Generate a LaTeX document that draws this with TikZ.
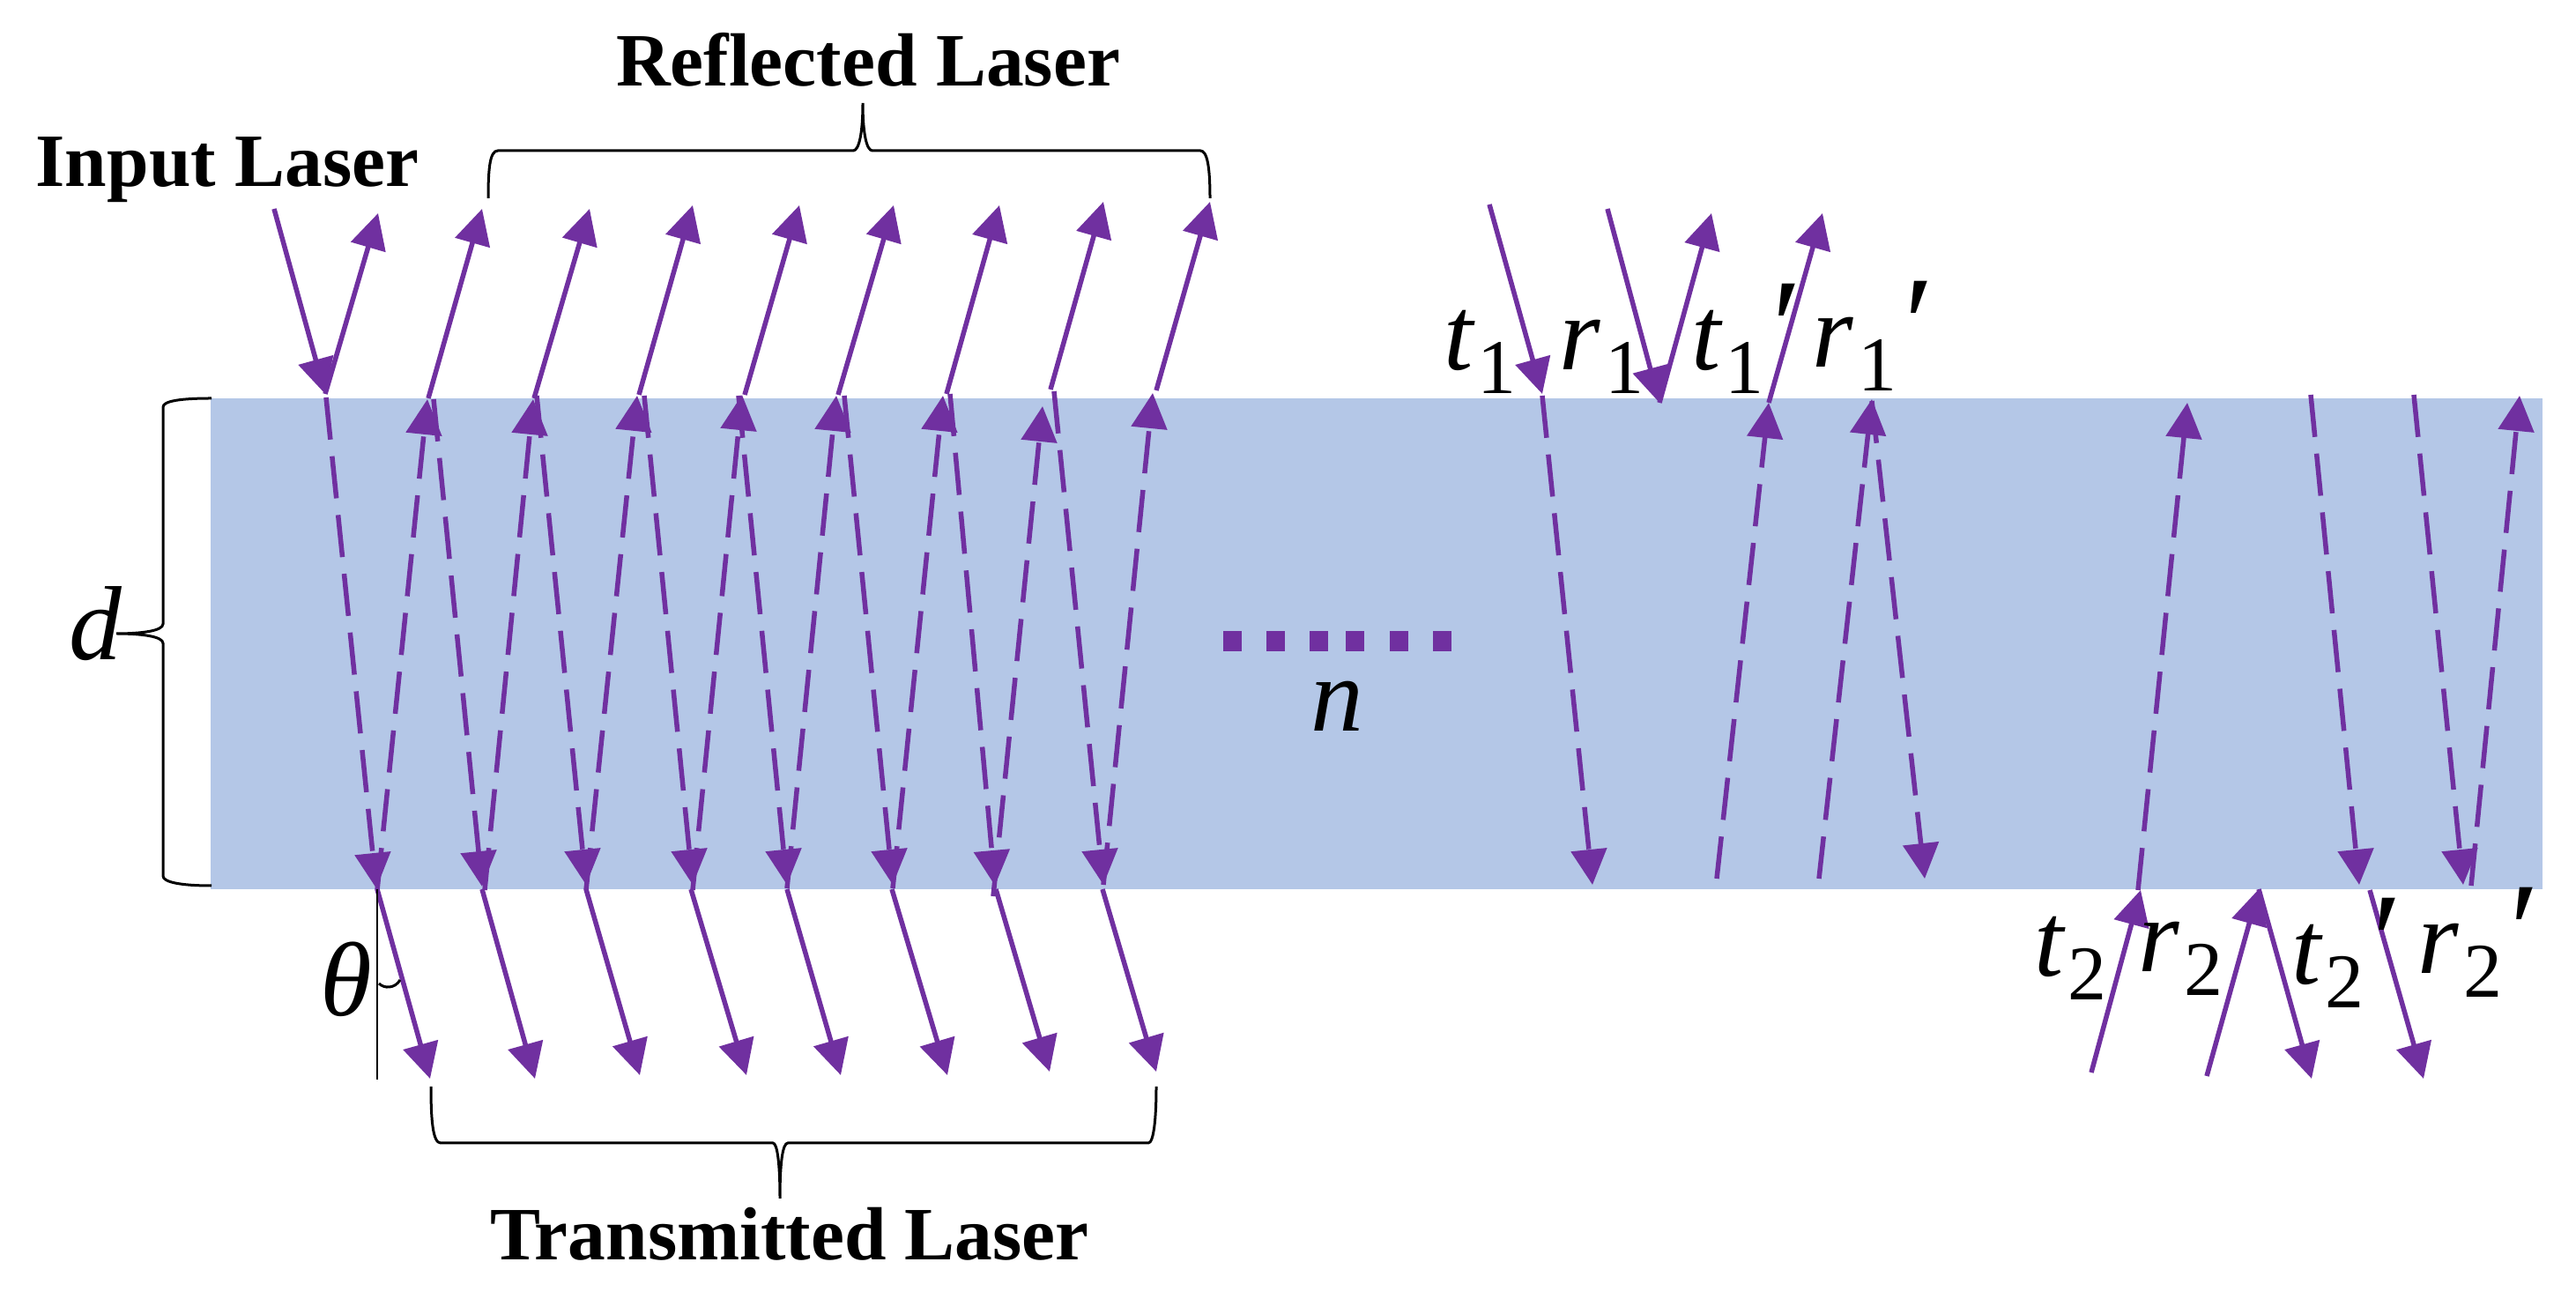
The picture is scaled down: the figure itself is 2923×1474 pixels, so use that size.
\documentclass[tikz,border=0pt]{standalone}
\usepackage{fontspec}
\setmainfont{Liberation Serif}
\usetikzlibrary{arrows.meta}
\definecolor{raypurple}{HTML}{7030A0}
\definecolor{bandblue}{HTML}{B4C7E7}
\newcommand{\symsub}[2]{#1\kern0.04em\raisebox{-0.22em}{\fontsize{25}{25}\upshape\selectfont #2}}
\newcommand{\symprime}{\raisebox{-1pt}{\fontsize{44}{44}\selectfont ′}}
\tikzset{
    solidray/.style={draw=raypurple, line width=0.055cm, -{Triangle[length=0.4cm,width=0.4cm]}},
    dashray/.style={solidray, dash pattern=on 0.48cm off 0.19cm},
    bracket/.style={draw=black, line width=0.03cm},
    titlelabel/.style={font=\fontsize{24.3}{29}\selectfont\bfseries, inner sep=0pt, anchor=base},
    symlabel/.style={font=\fontsize{34}{40}\selectfont\itshape, inner sep=0pt, anchor=base west},
}
\begin{document}
\begin{tikzpicture}[x=0.01cm,y=-0.01cm]
    \useasboundingbox (0,0) rectangle (2923,1474);

    % Plate
    \fill[bandblue] (239,452) rectangle (2885,1009);

    % Input ray and reflected rays above the plate
    \draw[solidray] (311,237) -- (369,447);
    \foreach \xa/\ya/\xb/\yb in {369/447/429/242, 486/452/547/237, 606/452/669/237,
        725/448/786/233, 845/448/907/233, 951/448/1014/233, 1074/447/1134/233,
        1192/442/1252/229, 1312/443/1373/229}
        \draw[solidray] (\xa,\ya) -- (\xb,\yb);

    % Rays going down inside the plate
    \foreach \xa/\ya/\xb/\yb in {370/451/427/1008, 492/453/547/1006, 609/449/665/1004,
        731/449/786/1004, 838/449/893/1004, 958/449/1013/1004, 1078/447/1129/1005,
        1196/444/1252/1004}
        \draw[dashray] (\xa,\ya) -- (\xb,\yb);

    % Rays going up inside the plate
    \foreach \xa/\ya/\xb/\yb in {428/1010/485/453, 550/1010/605/453, 665/1010/723/449,
        786/1010/842/448, 893/1008/949/449, 1013/1008/1070/449, 1127/1017/1183/461,
        1252/1004/1308/446}
        \draw[dashray] (\xa,\ya) -- (\xb,\yb);

    % Transmitted rays
    \foreach \xa/\ya/\xb/\yb in {428/1009/488/1224, 547/1009/607/1224, 665/1009/726/1220,
        784/1009/847/1220, 893/1009/954/1220, 1012/1009/1075/1220, 1130/1009/1191/1216,
        1251/1009/1312/1216}
        \draw[solidray] (\xa,\ya) -- (\xb,\yb);

    % Interface 1 on the right
    \draw[solidray] (1690,232) -- (1750,447);
    \draw[solidray] (1824,237) -- (1883,457);
    \draw[solidray] (1883,457) -- (1942,242);
    \draw[solidray] (2007,457) -- (2068,242);
    \draw[dashray] (1750,449) -- (1807,1004);
    \draw[dashray] (1948,997) -- (2007,457);
    \draw[dashray] (2064,997) -- (2124,453);
    \draw[dashray] (2124,455) -- (2184,997);

    % Interface 2 on the right
    \draw[dashray] (2426,1010) -- (2482,457);
    \draw[dashray] (2622,448) -- (2677,1004);
    \draw[dashray] (2739,448) -- (2795,1004);
    \draw[dashray] (2804,1005) -- (2859,449);
    \draw[solidray] (2373,1217) -- (2429,1010);
    \draw[solidray] (2504,1221) -- (2563,1009);
    \draw[solidray] (2563,1009) -- (2623,1224);
    \draw[solidray] (2689,1010) -- (2750,1224);

    % Row of dots
    \foreach \x in {1388,1437,1486,1527,1577,1626}
        \fill[raypurple] (\x,716) rectangle ++(21,23);

    % Braces
    \draw[bracket] (554,225) .. controls (554,190) and (556,171) .. (565,171) -- (968,171)
        .. controls (975,171) and (979,150) .. (979,117)
        .. controls (979,150) and (983,171) .. (990,171) -- (1362,171)
        .. controls (1370,171) and (1373,190) .. (1373,225);
    \draw[bracket] (489,1233) .. controls (489,1270) and (491,1297) .. (500,1297) -- (877,1297)
        .. controls (882,1297) and (885,1320) .. (885,1360)
        .. controls (885,1320) and (888,1297) .. (894,1297) -- (1303,1297)
        .. controls (1309,1297) and (1312,1270) .. (1312,1233);
    \draw[bracket] (240,452) .. controls (205,452) and (185,455) .. (185,462) -- (185,708)
        .. controls (185,716) and (160,719) .. (132,719)
        .. controls (160,719) and (185,722) .. (185,730) -- (185,994)
        .. controls (185,1001) and (205,1005) .. (240,1005);

    % Normal and angle
    \draw[black, line width=0.02cm] (428,1009) -- (428,1225);
    \draw[bracket] (430,1116) .. controls (436,1122) and (448,1122) .. (454,1112);

    % Labels
    \node[titlelabel] (inputlabel) at (258,212) {Input Laser};
    \node[titlelabel] (reflectedlabel) at (985,98) {Reflected Laser};
    \node[titlelabel] (transmittedlabel) at (896,1430) {Transmitted Laser};

    \node[symlabel] (dlabel) at (78,749) {d};
    \node[symlabel] (thetalabel) at (363,1153) {θ};
    \node[symlabel] (nlabel) at (1487,830) {n};

    \node[symlabel] (tonelabel) at (1638,420) {\symsub{t}{1}};
    \node[symlabel] (ronelabel) at (1769,420) {\symsub{r}{1}};
    \node[symlabel] (tonep) at (1919,420) {\symsub{t}{1}\symprime};
    \node[symlabel] (ronep) at (2056,417) {\symsub{r}{1}\symprime};
    \node[symlabel] (ttwolabel) at (2308,1108) {\symsub{t}{2}};
    \node[symlabel] (rtwolabel) at (2426,1103) {\symsub{r}{2}};
    \node[symlabel] (ttwop) at (2600,1117) {\symsub{t}{2}\symprime};
    \node[symlabel] (rtwop) at (2743,1105) {\symsub{r}{2}\symprime};
\end{tikzpicture}
\end{document}
